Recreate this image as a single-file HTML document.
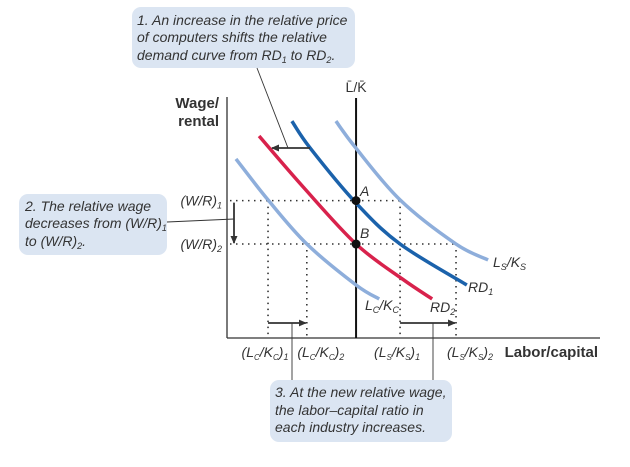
<!DOCTYPE html>
<html><head><meta charset="utf-8"><style>
html,body{margin:0;padding:0;background:#fff;}
svg{display:block;font-family:"Liberation Sans",sans-serif;}
.it{font-style:italic;fill:#333;}
</style></head><body>
<svg id="chart" width="630" height="467" viewBox="0 0 630 467" xmlns="http://www.w3.org/2000/svg">
<g id="boxes">
 <rect x="132" y="7" width="223" height="61" rx="9" fill="#dbe5f2"/>
 <text class="it" font-size="14" x="137" y="25">1. An increase in the relative price</text>
 <text class="it" font-size="14" x="137" y="42">of computers shifts the relative</text>
 <text class="it" font-size="14" x="137" y="60">demand curve from RD<tspan font-size="9" dy="3">1</tspan><tspan dy="-3"> to RD</tspan><tspan font-size="9" dy="3">2</tspan><tspan dy="-3">.</tspan></text>
 <rect x="19" y="194" width="148" height="61" rx="9" fill="#dbe5f2"/>
 <text class="it" font-size="14" x="25" y="211">2. The relative wage</text>
 <text class="it" font-size="14" x="25" y="228">decreases from (W/R)<tspan font-size="9" dy="3">1</tspan></text>
 <text class="it" font-size="14" x="25" y="246">to (W/R)<tspan font-size="9" dy="3">2</tspan><tspan dy="-3">.</tspan></text>
 <rect x="270" y="380" width="182" height="62" rx="9" fill="#dbe5f2"/>
 <text class="it" font-size="14" x="275" y="397">3. At the new relative wage,</text>
 <text class="it" font-size="14" x="275" y="415">the labor–capital ratio in</text>
 <text class="it" font-size="14" x="275" y="432">each industry increases.</text>
</g>
<g id="plot"></g>
</svg>
<script>
const NS="http://www.w3.org/2000/svg";
// data (units 0..100 on each axis)
const rd1X=[17.4,22.3,34.6,46.4,64.3];
const rd1Y=[90.0,78.8,56.0,39.0,22.0];
const rd2X=[8.6,20.4,34.6,47.0,55.0];
const rd2Y=[83.8,62.7,39.0,24.5,16.2];
const lcX=[2.4,11.0,21.4,34.6,40.8];
const lcY=[74.3,57.3,39.0,22.0,16.2];
const lsX=[29.2,34.3,46.4,61.4,70.0];
const lsY=[90.0,79.3,57.3,39.0,32.4];
const wageLevels=[57.0,39.0];
const wageLabels=["(W/R)1","(W/R)2"];
const endowment=34.6;
const ratioTicks=[11.0,21.4,46.4,61.4];
const ratioLabels=["(LC/KC)1","(LC/KC)2","(LS/KS)1","(LS/KS)2"];
const X=v=>227+v*3.73;
const Y=v=>338-v*2.41;
const g=document.getElementById('plot');
function mk(tag,attrs,name,inter){const e=document.createElementNS(NS,tag);for(const k in attrs)e.setAttribute(k,attrs[k]);


g.appendChild(e);return e;}
function smooth(xs,ys){const p=xs.map((x,i)=>[X(x),Y(ys[i])]);let d=`M${p[0][0]},${p[0][1]}`;
for(let i=0;i<p.length-1;i++){const p0=p[i-1]||p[i],p1=p[i],p2=p[i+1],p3=p[i+2]||p2;
const c1=[p1[0]+(p2[0]-p0[0])/6,p1[1]+(p2[1]-p0[1])/6],c2=[p2[0]-(p3[0]-p1[0])/6,p2[1]-(p3[1]-p1[1])/6];
d+=` C${c1[0]},${c1[1]} ${c2[0]},${c2[1]} ${p2[0]},${p2[1]}`;}return d;}
// dotted guides
const dot={stroke:"#333","stroke-width":1.6,"stroke-dasharray":"1.5 4.5",fill:"none"};
mk('line',Object.assign({x1:X(0)+3,y1:Y(wageLevels[0]),x2:X(ratioTicks[2]),y2:Y(wageLevels[0])},dot),'wage-1-guide');
mk('line',Object.assign({x1:X(0)+3,y1:Y(wageLevels[1]),x2:X(ratioTicks[3]),y2:Y(wageLevels[1])},dot),'wage-2-guide');
ratioTicks.forEach((t,i)=>{const w=wageLevels[i%2];
mk('line',Object.assign({x1:X(t),y1:Y(w),x2:X(t),y2:Y(0)},dot),'ratio-guide-'+(i+1));});
// axes
mk('line',{x1:X(0),y1:97,x2:X(0),y2:Y(0),stroke:"#333","stroke-width":1.3},'y-axis');
mk('line',{x1:X(0),y1:Y(0),x2:600,y2:Y(0),stroke:"#333","stroke-width":1.3},'x-axis');
mk('line',{x1:X(endowment),y1:98,x2:X(endowment),y2:Y(0),stroke:"#111","stroke-width":2},'endowment-line');
// curves
mk('path',{d:smooth(lcX,lcY),stroke:"#8eaedb","stroke-width":3.5,fill:"none"},'lc-kc-curve');
mk('path',{d:smooth(lsX,lsY),stroke:"#8eaedb","stroke-width":3.5,fill:"none"},'ls-ks-curve');
mk('path',{d:smooth(rd2X,rd2Y),stroke:"#d8224c","stroke-width":3.5,fill:"none"},'rd2-curve');
mk('path',{d:smooth(rd1X,rd1Y),stroke:"#1b62ab","stroke-width":3.5,fill:"none"},'rd1-curve');
mk('circle',{cx:X(endowment),cy:Y(wageLevels[0]),r:4.5,fill:"#111"},'point-a');
mk('circle',{cx:X(endowment),cy:Y(wageLevels[1]),r:4.5,fill:"#111"},'point-b');
// arrows & leaders
const defs=document.createElementNS(NS,'defs');defs.innerHTML='<marker id="ah" markerWidth="8" markerHeight="8" refX="7" refY="4" orient="auto" markerUnits="userSpaceOnUse"><path d="M0,0.5 L8,4 L0,7.5z" fill="#333"/></marker>';
document.getElementById('chart').prepend(defs);
const ar={stroke:"#333","stroke-width":1.8,"marker-end":"url(#ah)"};
mk('line',Object.assign({x1:310,y1:148,x2:272,y2:148},ar),'shift-arrow');
mk('line',{x1:257,y1:68,x2:288,y2:148,stroke:"#333","stroke-width":0.9},'leader-1');
mk('line',Object.assign({x1:234,y1:Y(wageLevels[0])+2,x2:234,y2:Y(wageLevels[1])-1},ar),'wage-arrow');
mk('line',{x1:167,y1:222,x2:234,y2:219,stroke:"#333","stroke-width":0.9},'leader-2');
mk('line',Object.assign({x1:X(ratioTicks[0]),y1:323,x2:X(ratioTicks[1])-1,y2:323},ar),'lc-arrow');
mk('line',Object.assign({x1:X(ratioTicks[2]),y1:323,x2:X(ratioTicks[3])-1,y2:323},ar),'ls-arrow');
mk('line',{x1:292,y1:323,x2:292,y2:380,stroke:"#333","stroke-width":0.9},'leader-3a');
mk('line',{x1:433,y1:323,x2:433,y2:380,stroke:"#333","stroke-width":0.9},'leader-3b');
// labels
function sub(txt,x,y,name,anchor,size){const t=mk('text',{x:x,y:y,"font-size":size||14,"font-style":"italic",fill:"#333","text-anchor":anchor||"start"},name);
t.innerHTML=txt;return t;}
wageLabels.forEach((l,i)=>{sub(l.slice(0,5)+'<tspan font-size="9" dy="3">'+l.slice(5)+'</tspan>',222,Y(wageLevels[i])+5,'wage-label-'+(i+1),'end');});
ratioLabels.forEach((l,i)=>{const a=l[2],b=l[5];const s='(L<tspan font-size="8" dy="3">'+a+'</tspan><tspan dy="-3">/K</tspan><tspan font-size="8" dy="3">'+b+'</tspan><tspan dy="-3">)</tspan><tspan font-size="9" dy="3">'+l[7]+'</tspan>';
sub(s,X(ratioTicks[i])+(i%2?14:-3),357,'x-tick-label-'+(i+1),'middle');});
sub('A',360,196,'label-a');sub('B',360,238,'label-b');
sub('L<tspan font-size="9" dy="3">S</tspan><tspan dy="-3">/K</tspan><tspan font-size="9" dy="3">S</tspan>',493,267,'ls-ks-label');
sub('RD<tspan font-size="9" dy="3">1</tspan>',468,292,'rd1-label');
sub('RD<tspan font-size="9" dy="3">2</tspan>',430,312,'rd2-label');
sub('L<tspan font-size="9" dy="3">C</tspan><tspan dy="-3">/K</tspan><tspan font-size="9" dy="3">C</tspan>',365,310,'lc-kc-label');
const lk=mk('text',{x:X(endowment),y:92,"font-size":14,fill:"#333","text-anchor":"middle"},'endowment-label');lk.textContent='L̄/K̄';
const y1=mk('text',{x:219,y:108,"font-size":15,"font-weight":"bold",fill:"#333","text-anchor":"end"},'y-axis-title');y1.textContent='Wage/';
const y2=mk('text',{x:219,y:126,"font-size":15,"font-weight":"bold",fill:"#333","text-anchor":"end"},'y-axis-title-line-2');y2.textContent='rental';
const xt=mk('text',{x:598,y:357,"font-size":15,"font-weight":"bold",fill:"#333","text-anchor":"end"},'x-axis-title');xt.textContent='Labor/capital';
</script>
</body></html>
